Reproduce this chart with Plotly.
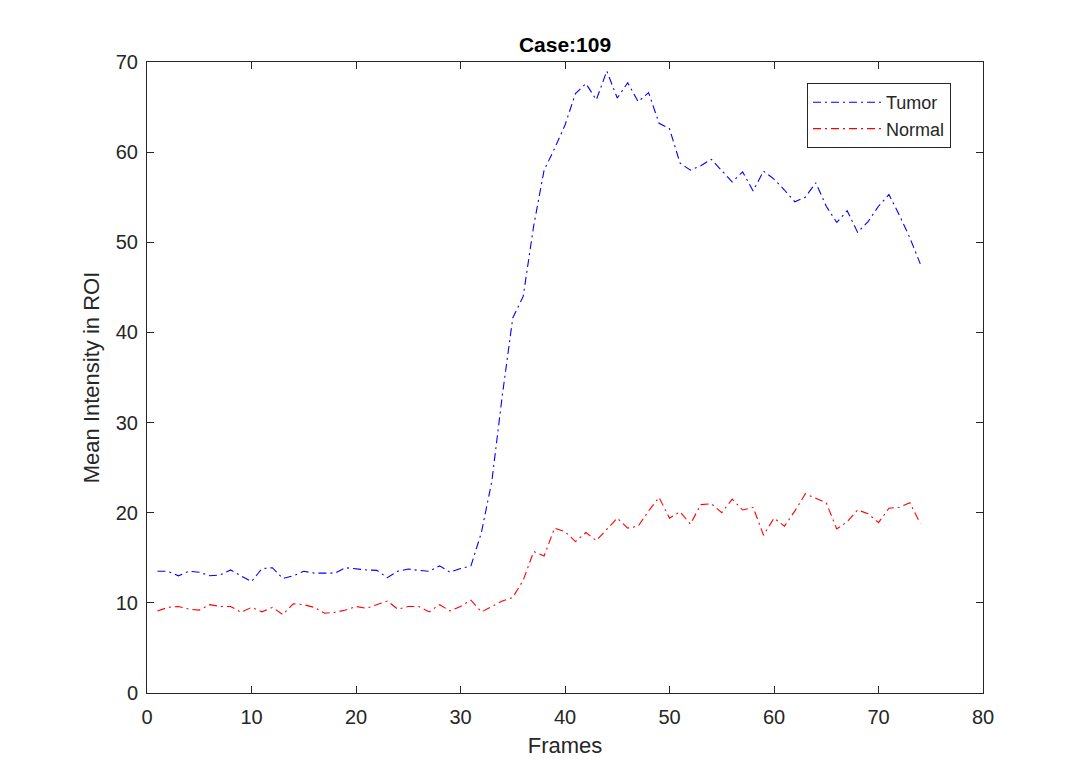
import plotly.graph_objects as go

frames = list(range(1, 75))
tumor = [13.5, 13.5, 13.0, 13.5, 13.4, 13.0, 13.1, 13.65, 13.0, 12.35,
         13.8, 13.9, 12.7, 13.0, 13.5, 13.3, 13.3, 13.3, 13.9, 13.75,
         13.65, 13.6, 12.8, 13.5, 13.75, 13.6, 13.5, 14.1, 13.4, 13.8,
         14.1, 17.8, 23.5, 33.0, 41.6, 44.0, 51.8, 58.0, 60.4, 63.0,
         66.5, 67.6, 65.8, 69.0, 66.0, 67.7, 65.6, 66.6, 63.2, 62.6,
         58.8, 58.0, 58.5, 59.2, 58.0, 56.7, 57.8, 55.7, 57.9, 57.0,
         55.8, 54.5, 55.0, 56.6, 54.0, 52.2, 53.5, 51.1, 52.3, 54.0,
         55.3, 53.0, 50.5, 47.6]
normal = [9.1, 9.5, 9.6, 9.3, 9.2, 9.8, 9.6, 9.6, 8.95, 9.5,
          9.0, 9.5, 8.7, 9.9, 9.8, 9.5, 8.85, 8.95, 9.2, 9.6,
          9.4, 9.8, 10.2, 9.3, 9.6, 9.6, 9.0, 9.8, 9.1, 9.6,
          10.3, 9.0, 9.6, 10.2, 10.6, 12.5, 15.7, 15.2, 18.3, 17.9,
          16.8, 17.8, 16.9, 18.2, 19.4, 18.3, 18.5, 20.2, 21.7, 19.4,
          20.1, 18.75, 20.9, 21.0, 20.0, 21.5, 20.3, 20.6, 17.5, 19.4,
          18.5, 20.2, 22.1, 21.6, 21.1, 18.2, 19.0, 20.3, 19.9, 18.9,
          20.5, 20.6, 21.1, 18.8]
x_ticks = [0, 10, 20, 30, 40, 50, 60, 70, 80]
y_ticks = [0, 10, 20, 30, 40, 50, 60, 70]

AX = "#262626"
FONT = "Liberation Sans, Arial, Helvetica, sans-serif"
DASH = "8px,4px,2px,4px"

fig = go.Figure()
fig.add_trace(go.Scatter(x=frames, y=tumor, mode="lines", name="Tumor",
                         line=dict(color="#0000FF", width=1.1, dash=DASH)))
fig.add_trace(go.Scatter(x=frames, y=normal, mode="lines", name="Normal",
                         line=dict(color="#FF0000", width=1.1, dash=DASH)))

axis_common = dict(showgrid=False, zeroline=False, showline=True, linecolor=AX,
                   linewidth=1, mirror="ticks", ticks="inside", ticklen=7,
                   tickcolor=AX, tickwidth=1,
                   tickfont=dict(family=FONT, size=20, color=AX))

# page body has an 8px margin, so the figure is sized to fit inside it
W, H = 1057, 757
L, T = 139, 54
PW, PH = 836, 631

fig.update_layout(
    width=W, height=H,
    paper_bgcolor="white", plot_bgcolor="white",
    margin=dict(l=L, r=W - L - PW, t=T, b=H - T - PH),
    font=dict(family=FONT, color=AX),
    title=dict(text="<b>Case:109</b>", x=(L + PW / 2) / W, xanchor="center",
               y=1 - 37 / H, yanchor="middle",
               font=dict(family=FONT, size=21, color="black")),
    xaxis=dict(range=[0, 80], tickvals=x_ticks, ticklabelstandoff=6,
               title=dict(text="Frames", font=dict(family=FONT, size=22, color=AX), standoff=10),
               **axis_common),
    yaxis=dict(range=[0, 70], tickvals=y_ticks, ticklabelstandoff=4,
               title=dict(text="Mean Intensity in ROI", font=dict(family=FONT, size=22, color=AX), standoff=10),
               **axis_common),
    legend=dict(x=(807 - 147) / PW, y=1 - (83 - 62) / PH, xanchor="left", yanchor="top",
                bgcolor="white", bordercolor=AX, borderwidth=1,
                font=dict(family=FONT, size=18, color=AX),
                itemwidth=68, tracegroupgap=0),
    showlegend=True,
)

fig.write_html("out.html")
